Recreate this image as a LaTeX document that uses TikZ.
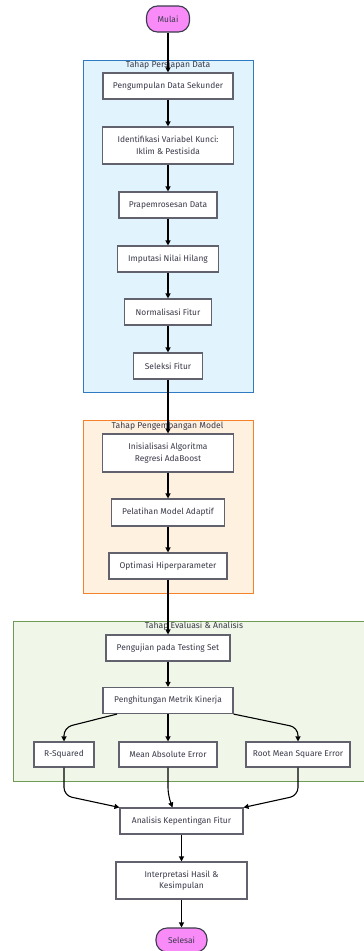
\documentclass[tikz,border=0pt]{standalone}
\usepackage{fontspec}
\setmainfont{Fira Sans}
\usetikzlibrary{positioning,arrows.meta}
\definecolor{cblue}{HTML}{2E7BC4}
\definecolor{cbluebg}{HTML}{E1F3FD}
\definecolor{corange}{HTML}{F5822A}
\definecolor{corangebg}{HTML}{FFF1E0}
\definecolor{cgreen}{HTML}{6E9B55}
\definecolor{cgreenbg}{HTML}{F0F6E8}
\definecolor{cpink}{HTML}{F98BF9}
\definecolor{cgray}{HTML}{62626E}
\definecolor{ctext}{HTML}{3A3A4A}
\tikzset{
  proc/.style  ={draw=cgray,fill=white,line width=1.1pt,text=ctext,
                 font=\fontsize{8.4}{11.5}\selectfont,align=center,inner sep=1pt},
  term/.style  ={proc,fill=cpink,draw=ctext,rounded corners=11pt},
  ctitle/.style={font=\fontsize{8.6}{10}\selectfont,text=ctext,inner sep=0pt},
  arr/.style   ={-{Triangle[length=5pt,width=5pt]},line width=1.1pt,black},
  bluebox/.style  ={draw=cblue,fill=cbluebg,line width=1pt},
  orangebox/.style={draw=corange,fill=corangebg,line width=1pt},
  greenbox/.style ={draw=cgreen,fill=cgreenbg,line width=1pt},
}

\begin{document}
\begin{tikzpicture}[x=1pt,y=-1pt]
 \clip (0,0) rectangle (364,951);
 % stages
 \draw[bluebox] (83,60) rectangle (253,392);
 \node[ctitle] (t1) at (168,65.5) {Tahap Persiapan Data};
 \draw[orangebox] (83,420) rectangle (253,593);
 \node[ctitle] (t2) at (167.5,426) {Tahap Pengembangan Model};
 \draw[greenbox] (13,621) rectangle (376,781);
 \node[ctitle] (t3) at (194,626.5) {Tahap Evaluasi \& Analisis};
 % steps
 \node[term,minimum width=43pt,minimum height=26pt] (mulai) at (168,19) {Mulai};
 \node[proc,minimum width=130pt,minimum height=26pt] (kumpul) at (168,86) {Pengumpulan Data Sekunder};
 \node[proc,minimum width=131pt,minimum height=37pt] (idvar) at (168,145.5) {Identifikasi Variabel Kunci:\\Iklim \& Pestisida};
 \node[proc,minimum width=98pt,minimum height=26pt] (prapro) at (168,205) {Prapemrosesan Data};
 \node[proc,minimum width=101pt,minimum height=26pt] (imput) at (168,259) {Imputasi Nilai Hilang};
 \node[proc,minimum width=87pt,minimum height=26pt] (norm) at (168,312) {Normalisasi Fitur};
 \node[proc,minimum width=69pt,minimum height=26pt] (seleksi) at (168,366) {Seleksi Fitur};
 \node[proc,minimum width=131pt,minimum height=38pt] (inisial) at (168,453) {Inisialisasi Algoritma\\Regresi AdaBoost};
 \node[proc,minimum width=113pt,minimum height=27pt] (latih) at (168,512.5) {Pelatihan Model Adaptif};
 \node[proc,minimum width=118pt,minimum height=26pt] (optim) at (168,566) {Optimasi Hiperparameter};
 \node[proc,minimum width=124pt,minimum height=26pt] (uji) at (168,648) {Pengujian pada Testing Set};
 \node[proc,minimum width=130pt,minimum height=26pt] (kinerja) at (168,700.5) {Penghitungan Metrik Kinerja};
 \node[proc,minimum width=60pt,minimum height=25pt] (rsq) at (64,754.5) {R-Squared};
 \node[proc,minimum width=98pt,minimum height=25pt] (mae) at (168,754.5) {Mean Absolute Error};
 \node[proc,minimum width=104pt,minimum height=25pt] (rmse) at (298,754.5) {Root Mean Square Error};
 \node[proc,minimum width=123pt,minimum height=26pt] (analisis) at (181.5,821) {Analisis Kepentingan Fitur};
 \node[proc,minimum width=131pt,minimum height=37pt] (interp) at (181.5,880.5) {Interpretasi Hasil \&\\Kesimpulan};
 \node[term,minimum width=51pt,minimum height=24pt] (selesai) at (181.5,940) {Selesai};
 % flow
 \draw[arr] (mulai) -- (kumpul);
 \draw[arr] (kumpul) -- (idvar);
 \draw[arr] (idvar) -- (prapro);
 \draw[arr] (prapro) -- (imput);
 \draw[arr] (imput) -- (norm);
 \draw[arr] (norm) -- (seleksi);
 \draw[arr] (seleksi) -- (inisial);
 \draw[arr] (inisial) -- (latih);
 \draw[arr] (latih) -- (optim);
 \draw[arr] (optim) -- (uji);
 \draw[arr] (uji) -- (kinerja);
 \draw[arr,rounded corners=8pt] ([xshift=-51pt]kinerja.south) -- ([yshift=14pt]rsq.north) -- (rsq.north);
 \draw[arr] (kinerja) -- (mae);
 \draw[arr,rounded corners=8pt] (kinerja.south east) -- ([yshift=14pt]rmse.north) -- (rmse.north);
 \draw[arr,rounded corners=8pt] (rsq.south) -- ([yshift=-28pt]rsq.south) -- (analisis.north west);
 \draw[arr,rounded corners=8pt] (mae.south) -- ([yshift=-28pt]mae.south) -- ([xshift=-9pt]analisis.north);
 \draw[arr,rounded corners=8pt] (rmse.south) -- ([yshift=-28pt]rmse.south) -- (analisis.north east);
 \draw[arr] (analisis) -- (interp);
 \draw[arr] (interp) -- (selesai);
\end{tikzpicture}
\end{document}
